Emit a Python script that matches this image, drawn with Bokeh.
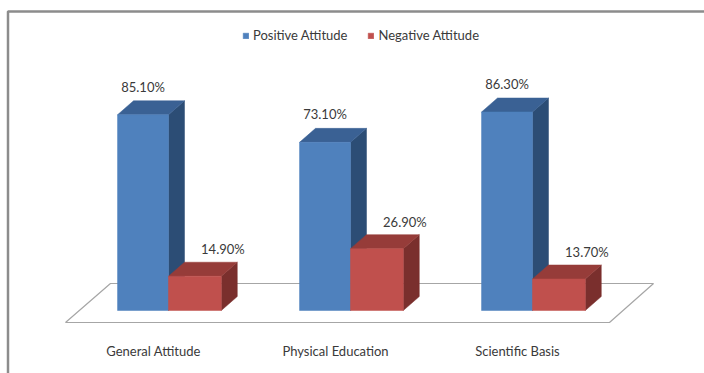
from bokeh.plotting import figure
from bokeh.models import Range1d, ColumnDataSource, Legend, LegendItem
from bokeh.core.properties import value
from bokeh.embed import file_html
from bokeh.resources import INLINE

# ---- data ----
categories = ["General Attitude", "Physical Education", "Scientific Basis"]
positive = [85.1, 73.1, 86.3]
negative = [14.9, 26.9, 13.7]
series_names = ["Positive Attitude", "Negative Attitude"]

# ---- layout / style constants ----
W, H = 704, 373
PX_X = 182.0      # pixels per category step
PX_Y = 2.3        # pixels per percent
X0_PX = 168.0     # pixel x of first category boundary
Y0_PX = 310.0     # pixel y of value 0
BW_POS = 0.28
BW_NEG = 0.29
DX = 16 / PX_X    # depth offset x
DY = 14 / PX_Y    # depth offset y
FONT = "Lato"
FS = "13px"
TXT = "#3A3A3A"

BLUE = ("#4F81BD", "#3A6194", "#2C4D75")   # front, top, side
RED = ("#C0504D", "#963C39", "#7A2F2D")

p = figure(width=W, height=H, output_backend="svg", toolbar_location=None,
           x_axis_type=None, y_axis_type=None,
           x_range=Range1d(-X0_PX / PX_X, (W - X0_PX) / PX_X),
           y_range=Range1d(-(H - Y0_PX) / PX_Y, Y0_PX / PX_Y),
           min_border=0, min_border_left=0, min_border_right=0,
           min_border_top=0, min_border_bottom=0)
p.outline_line_color = None
p.grid.visible = False
p.background_fill_color = "white"
p.border_fill_color = "white"


def px_x(px):
    return (px - X0_PX) / PX_X


def px_y(px):
    return (Y0_PX - px) / PX_Y


# outer chart border (cut off at right / bottom)
p.line(x=[px_x(W + 5), px_x(7.5), px_x(7.5)], y=[px_y(11), px_y(11), px_y(H + 5)],
       line_color="#8C8C8C", line_width=2.5)

# floor parallelogram
n = len(categories)
fl_front = px_y(322)
fl_back = px_y(283)
floor_x = [-0.566, (n - 1) + 0.423, (n - 1) + 0.665, -0.319]
floor_y = [fl_front, fl_front, fl_back, fl_back]
p.patch(x=floor_x, y=floor_y, fill_color="white", line_color="#A6A6A6", line_width=1.2)

legend_items = []
for k in range(n):
    for si, (vals, colors, bw, off) in enumerate(((positive, BLUE, BW_POS, -BW_POS),
                                                   (negative, RED, BW_NEG, 0.0))):
        l = k + off
        r = l + bw
        v = vals[k]
        side_xs = [[r, r + DX, r + DX, r]]
        side_ys = [[0, DY, v + DY, v]]
        top_xs = [[l, r, r + DX, l + DX]]
        top_ys = [[v, v, v + DY, v + DY]]
        p.patches(xs=side_xs, ys=side_ys, fill_color=colors[2], line_color=colors[2], line_width=0.5)
        p.patches(xs=top_xs, ys=top_ys, fill_color=colors[1], line_color=colors[1], line_width=0.5)
        rq = p.quad(left=[l], right=[r], bottom=[0], top=[v], fill_color=colors[0],
                    line_color=colors[0], line_width=0.5)
        if k == 0:
            legend_items.append(LegendItem(label=series_names[si], renderers=[rq]))

# value labels
pos_src = ColumnDataSource(dict(x=[i - BW_POS / 2 for i in range(n)], y=positive,
                                t=[f"{v:.2f}%" for v in positive]))
neg_src = ColumnDataSource(dict(x=[i + BW_NEG / 2 for i in range(n)], y=negative,
                                t=[f"{v:.2f}%" for v in negative]))
p.text(x="x", y="y", text="t", source=pos_src, text_align="center", text_baseline="middle",
       y_offset=-28, text_font=value(FONT), text_font_size=FS, text_color=TXT)
p.text(x="x", y="y", text="t", source=neg_src, text_align="center", text_baseline="middle",
       x_offset=28, y_offset=-27, text_font=value(FONT), text_font_size=FS, text_color=TXT)

# category labels
cat_src = ColumnDataSource(dict(x=list(range(n)), y=[0] * n, t=categories))
p.text(x="x", y="y", text="t", source=cat_src, text_align="center", text_baseline="middle",
       x_offset=-15, y_offset=40, text_font=value(FONT), text_font_size=FS, text_color=TXT)

legend = Legend(items=legend_items, orientation="horizontal", location=(242, 373 - 43),
                padding=0, margin=0, spacing=20, glyph_width=7, glyph_height=7,
                label_height=14, label_standoff=4, border_line_color=None,
                background_fill_alpha=0, label_text_font=FONT, label_text_font_size=FS,
                label_text_color=TXT)
p.add_layout(legend, "center")

open("out.html", "w").write(file_html(p, INLINE))
